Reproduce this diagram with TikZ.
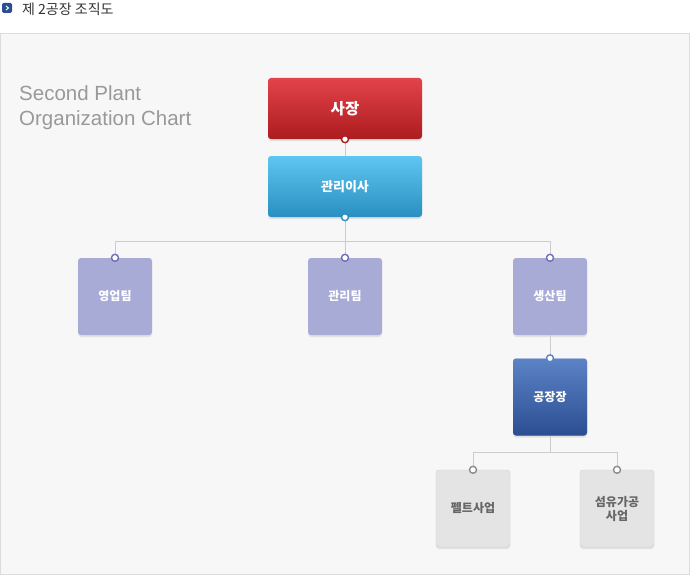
\documentclass[tikz,border=0pt]{standalone}
\usepackage{fontspec}
\setmainfont{Liberation Sans}
\newfontfamily\kr{Noto Sans CJK KR}
\usepackage{tikz}
\usetikzlibrary{calc, positioning, shadows}
\usepackage{xcolor}
\definecolor{panelbg}{HTML}{F7F7F7}
\definecolor{panelline}{HTML}{DCDCDC}
\definecolor{redtop}{HTML}{E3434B}
\definecolor{redbot}{HTML}{AC1C1F}
\definecolor{cyantop}{HTML}{5EC6F2}
\definecolor{cyanbot}{HTML}{2A8FC0}
\definecolor{teamfill}{HTML}{A8ABD6}
\definecolor{teamring}{HTML}{6A70B8}
\definecolor{navytop}{HTML}{5B83C6}
\definecolor{navybot}{HTML}{2B4E91}
\definecolor{greyfill}{HTML}{E4E4E4}
\definecolor{greyline}{HTML}{CFCFCF}
\definecolor{greytext}{HTML}{666666}
\definecolor{titlegrey}{HTML}{999999}
\definecolor{linkgrey}{HTML}{CCCCCC}
\tikzset{
  box/.style={rounded corners=3pt, inner sep=0pt, align=center, text=white,
    font=\kr\bfseries\fontsize{12}{14}\selectfont,
    drop shadow={opacity=0.18, shadow xshift=0pt, shadow yshift=-2pt}},
  wide/.style={box, minimum width=154pt, minimum height=61pt},
  team/.style={box, minimum width=74pt, minimum height=77pt, fill=teamfill},
  biz/.style={team, fill=greyfill, draw=greyline, text=greytext},
  link/.style={draw=linkgrey, line width=1pt},
  ring/.style={draw=#1, fill=white, line width=1.4pt},
}

\begin{document}
\begin{tikzpicture}[x=1pt, y=-1pt]
  \useasboundingbox (0,0) rectangle (690,575);
  % header
  \fill[navybot, rounded corners=1.5pt] (2,3) rectangle (12,13);
  \draw[white, line width=1pt] (6,6) -- (8.5,8) -- (6,10);
  \node[anchor=west, inner sep=0pt, text=black!80, font=\kr\fontsize{14}{16}\selectfont] (head) at (22,9) {제 2공장 조직도};
  \draw[fill=panelbg, draw=panelline] (0.5,33.5) rectangle (689.5,574.5);
  \node[anchor=north west, inner sep=0pt, align=left, text=titlegrey, font=\fontsize{20.5}{25}\selectfont] (title) at (19,85) {Second Plant\\Organization Chart};

  % boxes
  \node[wide, top color=redtop, bottom color=redbot, font=\kr\bfseries\fontsize{15.5}{18}\selectfont] (ceo) at (345,108.5) {사장};
  \node[wide, top color=cyantop, bottom color=cyanbot, font=\kr\bfseries\fontsize{13}{15}\selectfont] (dir) at (345,186.5) {관리이사};
  \node[team] (sales) at (115,296.5) {영업팀};
  \node[team] (mgmt) at (345,296.5) {관리팀};
  \node[team] (prod) at (550,296.5) {생산팀};
  \node[team, top color=navytop, bottom color=navybot] (plant) at (550,397) {공장장};
  \node[biz] (felt) at (473,508.5) {펠트사업};
  \node[biz] (fiber) at (617,508.5) {섬유가공\\사업};

  % connectors
  \coordinate (bus1) at ($(dir.south)+(0,24)$);
  \coordinate (bus2) at ($(plant.south)+(0,17)$);
  \draw[link] (ceo.south) -- (dir.north);
  \draw[link] (dir.south) -- (bus1) -| (sales.north);
  \draw[link] (bus1) -| (prod.north);
  \draw[link] (bus1) -- (mgmt.north);
  \draw[link] (prod.south) -- (plant.north);
  \draw[link] (plant.south) -- (bus2) -| (felt.north);
  \draw[link] (bus2) -| (fiber.north);

  % rings
  \draw[ring=redbot] (ceo.south) circle (3.5);
  \draw[ring=cyanbot] (dir.south) circle (3.5);
  \foreach \n in {sales, mgmt, prod}
    \draw[ring=teamring] (\n.north) circle (3.5);
  \draw[ring=navytop] (plant.north) circle (3.5);
  \foreach \n in {felt, fiber}
    \draw[ring=black!45] (\n.north) circle (3.5);
\end{tikzpicture}
\end{document}
